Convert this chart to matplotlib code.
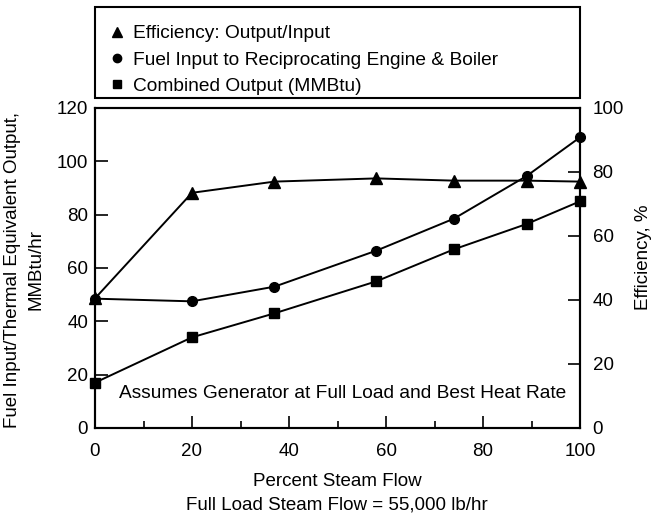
import matplotlib
matplotlib.use("Agg")
import matplotlib.pyplot as plt
from matplotlib.lines import Line2D
from matplotlib.patches import Rectangle

plt.rcParams['font.family'] = ['Liberation Sans', 'DejaVu Sans']
plt.rcParams['font.size'] = 13

# data
steam_flow = [0, 20, 37, 58, 74, 89, 100]
efficiency = [40.5, 73.5, 77, 78, 77.3, 77.3, 77]
fuel_input = [48.5, 47.5, 53, 66.5, 78.5, 94.5, 109]
combined_output = [17, 34, 43, 55, 67, 76.5, 85]

x_ticks = [0, 20, 40, 60, 80, 100]
x_minor = [10, 30, 50, 70, 90]
left_ticks = [0, 20, 40, 60, 80, 100, 120]
right_ticks = [0, 20, 40, 60, 80, 100]

legend_labels = ['Efficiency: Output/Input',
                 'Fuel Input to Reciprocating Engine & Boiler',
                 'Combined Output (MMBtu)']

W, H = 653, 516
fig = plt.figure(figsize=(W / 100, H / 100), dpi=100)
ax = fig.add_axes([95 / W, 1 - 428 / H, 485 / W, 320 / H])
ax2 = ax.twinx()

lw = 1.4
ax.plot(steam_flow, fuel_input, color='black', lw=lw, marker='o', ms=7, zorder=3, clip_on=False)
ax.plot(steam_flow, combined_output, color='black', lw=lw, marker='s', ms=7, zorder=3, clip_on=False)
ax2.plot(steam_flow, efficiency, color='black', lw=lw, marker='^', ms=8, zorder=3, clip_on=False)

ax.set_xlim(0, 100)
ax.set_ylim(0, 120)
ax2.set_ylim(0, 100)
ax.set_xticks(x_ticks)
ax.set_xticks(x_minor, minor=True)
ax.set_yticks(left_ticks)
ax2.set_yticks(right_ticks)

ax.tick_params(axis='x', which='major', direction='in', length=9, width=1.2,
               labelsize=13.5, pad=11, top=False)
ax.tick_params(axis='y', which='major', direction='in', length=9, width=1.2,
               labelsize=13.5, pad=5)
ax.tick_params(axis='x', which='minor', direction='in', length=5, width=1.2, top=False)
ax2.tick_params(axis='y', direction='in', length=9, width=1.2, labelsize=13.5, pad=9)

for a in (ax, ax2):
    for s in a.spines.values():
        s.set_linewidth(1.5)

# axis titles placed to match the reference
fig.text(24 / W, 1 - 270 / H, 'Fuel Input/Thermal Equivalent Output,\nMMBtu/hr',
         rotation=90, ha='center', va='center', multialignment='center',
         fontsize=13.5, linespacing=1.5)
fig.text(643 / W, 1 - 257 / H, 'Efficiency, %', rotation=90, ha='center',
         va='center', fontsize=13.5)
fig.text(337 / W, 1 - 482 / H, 'Percent Steam Flow', ha='center', va='center', fontsize=13.5)
fig.text(337 / W, 1 - 505 / H, 'Full Load Steam Flow = 55,000 lb/hr', ha='center',
         va='center', fontsize=13.5)

ax.text(51, 13, 'Assumes Generator at Full Load and Best Heat Rate',
        ha='center', va='center', fontsize=13.8)

# legend box sits above the axes, entries low in the box
fig.add_artist(Rectangle((95 / W, 1 - 98 / H), 485 / W, 91 / H, transform=fig.transFigure,
                         fill=False, ec='black', lw=1.5))
handles = [Line2D([], [], color='black', marker='^', ls='none', ms=7),
           Line2D([], [], color='black', marker='o', ls='none', ms=6),
           Line2D([], [], color='black', marker='s', ls='none', ms=6)]
fig.legend(handles, legend_labels, loc='center left',
           bbox_to_anchor=(105.5 / W, 1 - 60 / H), borderaxespad=0, borderpad=0,
           frameon=False, fontsize=13.8, handlelength=1.15,
           handletextpad=0.3, labelspacing=0.47)

fig.savefig('out.png', dpi=100)
